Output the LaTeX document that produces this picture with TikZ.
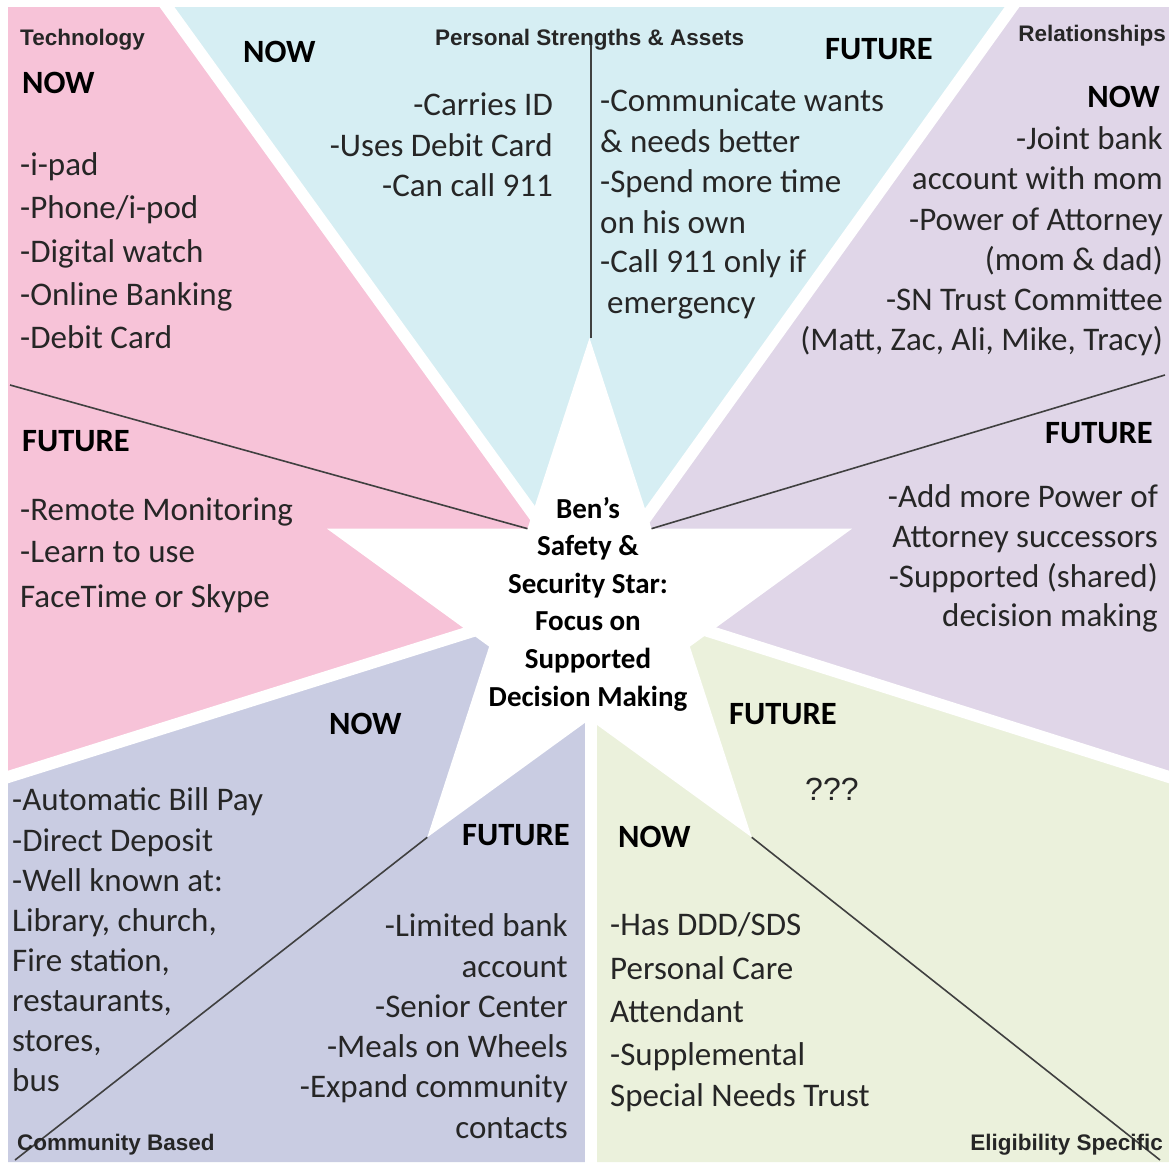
\documentclass[tikz,border=0pt]{standalone}
\usepackage{fontspec}
\setmainfont{Carlito}
\newfontfamily\labelfont{Liberation Sans}
\usetikzlibrary{calc}

\definecolor{techpink}{RGB}{247,195,216}
\definecolor{strengthblue}{RGB}{214,238,243}
\definecolor{relpurple}{RGB}{224,214,232}
\definecolor{eligreen}{RGB}{235,241,220}
\definecolor{commlav}{RGB}{201,204,226}

\tikzset{
  body/.style={font=\fontsize{33}{38}\selectfont, text=black!85, inner sep=0pt},
  head/.style={font=\fontsize{32.5}{38}\selectfont\bfseries, inner sep=0pt},
  area/.style={font=\labelfont\bfseries\fontsize{22.5}{27}\selectfont, text=black!85, inner sep=0pt},
  divider/.style={draw=black!75, line width=1.6pt},
  gap/.style={draw=white, line width=12pt},
}

\begin{document}
\begin{tikzpicture}[x=1pt,y=-1pt]
  \useasboundingbox (0,0) rectangle (1169,1162);
  % wedge corners
  \coordinate (G) at (591,594);
  \coordinate (pA) at (167,7);
  \coordinate (pB) at (1012,7);
  \coordinate (pC) at (1169,777);
  \coordinate (pD) at (591,1162);
  \coordinate (pE) at (8,777);
  % coloured wedges
  \fill[techpink] (G) -- (pA) -- (8,7) -- (pE) -- cycle;
  \fill[strengthblue] (G) -- (pB) -- (pA) -- cycle;
  \fill[relpurple] (G) -- (pC) -- (1169,7) -- (pB) -- cycle;
  \fill[eligreen] (G) -- (pD) -- (1169,1162) -- (pC) -- cycle;
  \fill[commlav] (G) -- (pE) -- (8,1162) -- (pD) -- cycle;
  \foreach \p in {pA,pB,pC,pD,pE}{
    \draw[gap] (G) -- ($(G)!1.05!(\p)$);
  }
  % the star
  \foreach \n/\a/\r in {1/270/276, 2/234/105.5, 3/198/276, 4/162/105.5, 5/126/276,
                        6/90/105.5, 7/54/276, 8/18/105.5, 9/-18/276, 10/-54/105.5}{
    \coordinate (s\n) at ($(589.5,614)+(\a:\r)$);
  }
  \fill[white] (s1) \foreach \n in {2,...,10}{ -- (s\n)} -- cycle;
  % dividers now/future
  \coordinate (techEnd) at (10,385);
  \coordinate (relEnd) at (1165,375);
  \coordinate (strTop) at (591,45);
  \coordinate (comEnd) at (15,1160);
  \coordinate (eliEnd) at (1160,1160);
  \draw[divider] (s2) -- (techEnd);
  \draw[divider] (s10) -- (relEnd);
  \draw[divider] (strTop |- s1) -- (strTop);
  \draw[divider] (s5) -- (comEnd);
  \draw[divider] (s7) -- (eliEnd);

  \node[align=center, font=\fontsize{29}{37.6}\selectfont\bfseries] (focus) at (588,604)
    {Ben’s\\Safety \&\\Security Star:\\Focus on\\Supported\\Decision Making};

  % Technology
  \node[area, anchor=base west] (techlabel) at (20,45) {Technology};
  \node[head, anchor=base west] (technow) at (22,93) {NOW};
  \foreach \y/\t [count=\i] in {175/-i-pad, 218/{-Phone/i-pod}, 262/-Digital watch,
                                305/-Online Banking, 348/-Debit Card}{
    \node[body, anchor=base west] (technow\i) at (20,\y) {\t};
  }
  \node[head, anchor=base west] (techfut) at (22,451) {FUTURE};
  \foreach \y/\t [count=\i] in {520/-Remote Monitoring, 562/-Learn to use, 607/FaceTime or Skype}{
    \node[body, anchor=base west] (techfut\i) at (20,\y) {\t};
  }

  % Personal strengths
  \node[area, anchor=base west] (strlabel) at (435,45) {Personal Strengths \& Assets};
  \node[head, anchor=base west] (strnow) at (243,62) {NOW};
  \foreach \y/\t [count=\i] in {115/-Carries ID, 156/-Uses Debit Card, 196/-Can call 911}{
    \node[body, anchor=base east] (strnow\i) at (553,\y) {\t};
  }
  \node[head, anchor=base west] (strfut) at (825,59) {FUTURE};
  \foreach \y/\t [count=\i] in {111/-Communicate wants, 152/\& needs better, 192/-Spend more time,
                                233/on his own, 272/-Call 911 only if}{
    \node[body, anchor=base west] (strfut\i) at (600,\y) {\t};
  }
  \node[body, anchor=base west] (strfut6) at (607,313) {emergency};

  % Relationships
  \node[area, anchor=base east] (rellabel) at (1166,41) {Relationships};
  \node[head, anchor=base east] (relnow) at (1160,107) {NOW};
  \foreach \y/\t [count=\i] in {149/-Joint bank, 189/account with mom, 230/-Power of Attorney,
                                270/(mom \& dad), 310/-SN Trust Committee,
                                350/{(Matt, Zac, Ali, Mike, Tracy)}}{
    \node[body, anchor=base east] (relnow\i) at (1163,\y) {\t};
  }
  \node[head, anchor=base east] (relfut) at (1153,443) {FUTURE};
  \foreach \y/\t [count=\i] in {507/-Add more Power of, 547/Attorney successors,
                                587/-Supported (shared), 626/decision making}{
    \node[body, anchor=base east] (relfut\i) at (1158,\y) {\t};
  }

  % Eligibility
  \node[head, anchor=base west] (elifut) at (729,724) {FUTURE};
  \node[font=\labelfont\fontsize{32}{38}\selectfont, text=black!85, inner sep=0pt,
        anchor=base west] (elifut1) at (805,800) {???};
  \node[head, anchor=base west] (elinow) at (618,847) {NOW};
  \foreach \y/\t [count=\i] in {935/{-Has DDD/SDS}, 979/Personal Care, 1022/Attendant,
                                1065/-Supplemental, 1106/Special Needs Trust}{
    \node[body, anchor=base west] (elinow\i) at (610,\y) {\t};
  }
  \node[area, anchor=base east] (elilabel) at (1163,1150) {Eligibility Specific};

  % Community
  \node[head, anchor=base west] (comnow) at (329,734) {NOW};
  \foreach \y/\t [count=\i] in {810/-Automatic Bill Pay, 851/-Direct Deposit, 891/-Well known at:,
                                931/{Library, church,}, 971/{Fire station,}, 1011/{restaurants,},
                                1051/{stores,}, 1091/bus}{
    \node[body, anchor=base west] (comnow\i) at (12,\y) {\t};
  }
  \node[head, anchor=base east] (comfut) at (570,845) {FUTURE};
  \foreach \y/\t [count=\i] in {936/-Limited bank, 977/account, 1017/-Senior Center,
                                1057/-Meals on Wheels, 1097/-Expand community, 1138/contacts}{
    \node[body, anchor=base east] (comfut\i) at (568,\y) {\t};
  }
  \node[area, anchor=base west] (comlabel) at (17,1150) {Community Based};
\end{tikzpicture}
\end{document}
